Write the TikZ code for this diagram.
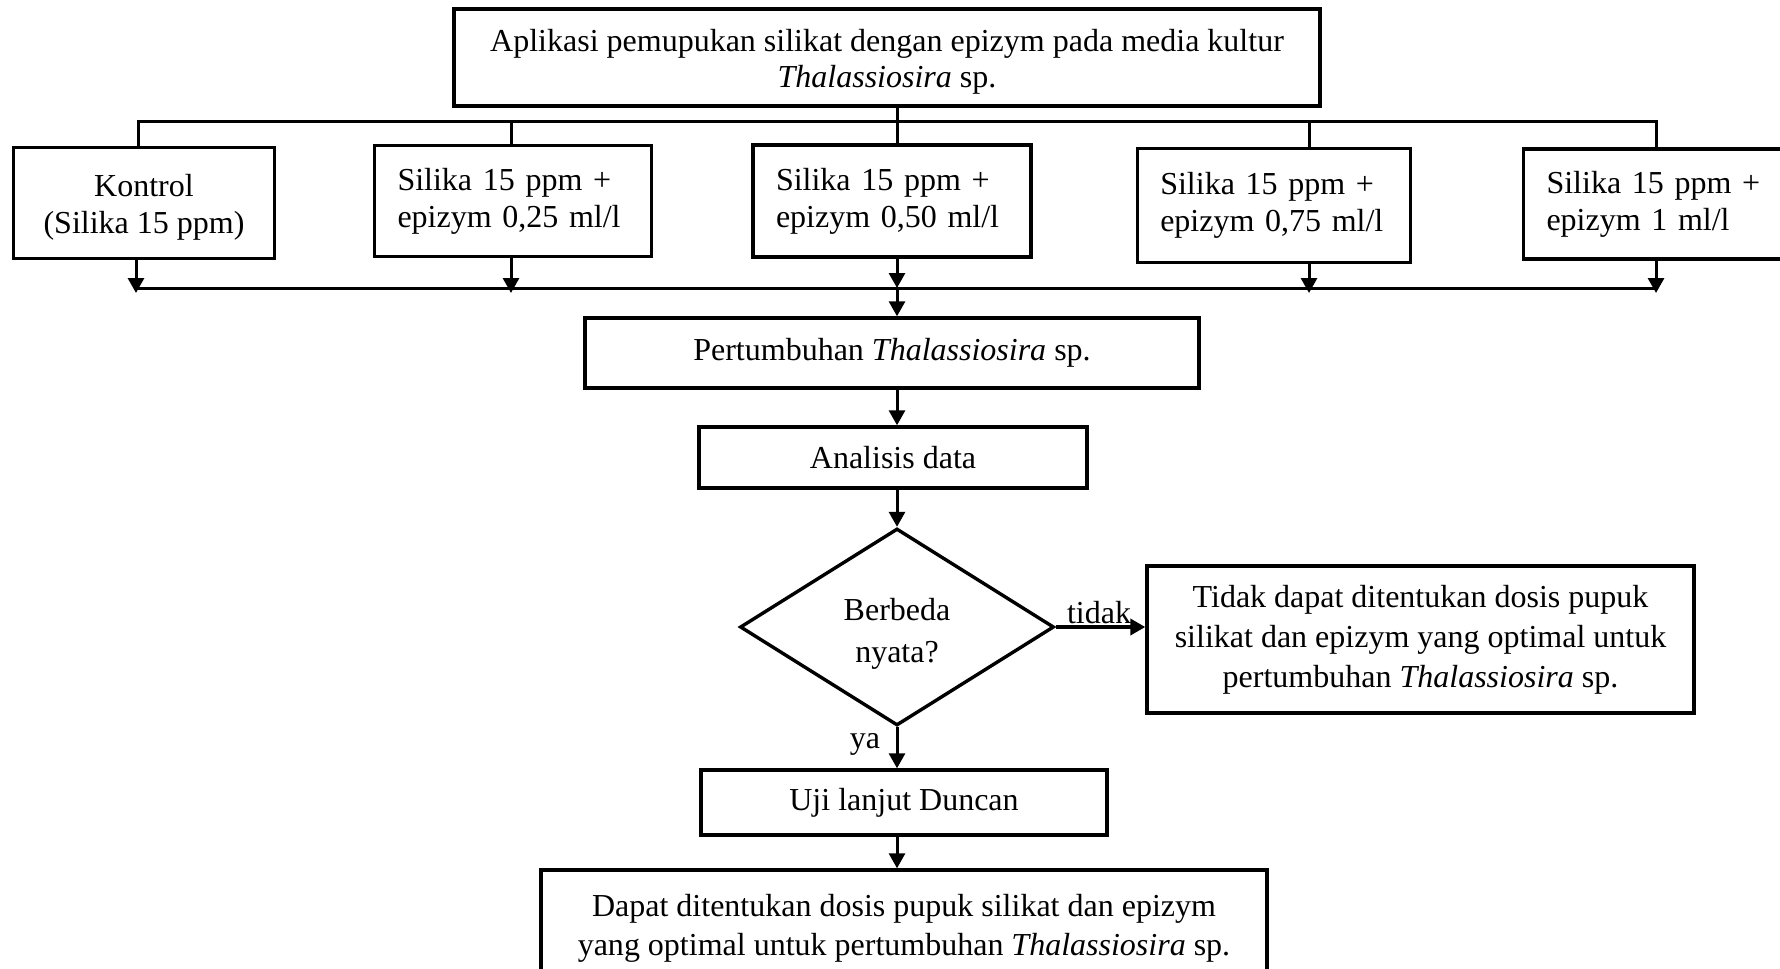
\documentclass[tikz,border=0pt]{standalone}
\usepackage{fontspec}
\setmainfont{Liberation Serif}
\usetikzlibrary{shapes.geometric,arrows.meta}
\begin{document}
\begin{tikzpicture}[x=0.5pt,y=-0.5pt,
  every node/.style={font=\fontsize{16}{18.5}\selectfont},
  box/.style={draw, line width=1.7pt, inner sep=0pt, align=center},
  lbox/.style={draw, line width=1.7pt, inner xsep=11.5pt, inner ysep=0pt, align=left},
  txt/.style={inner sep=0pt, align=center},
  conn/.style={line width=1.5pt},
  arr/.style={line width=1.5pt,-{Triangle[length=7.5pt,width=8pt]}},
  lbl/.style={inner sep=0pt}
]
\useasboundingbox (0,0) rectangle (1780,968);

\node[box, minimum width=433pt, minimum height=48.5pt] (top) at (887,57.5) {};
\node[txt, font=\fontsize{16}{18}\selectfont] (toptxt) at (887,62)
  {Aplikasi pemupukan silikat dengan epizym pada media kultur\\\textit{Thalassiosira} sp.};

\node[box, minimum width=130.5pt, minimum height=55.5pt] (b1) at (144,203) {};
\node[txt] (b1txt) at (144,207) {Kontrol\\(Silika 15 ppm)};
\node[lbox, text width=115.5pt, minimum height=55.5pt] (b2) at (513,201) {Silika 15 ppm +\\epizym 0,25 ml/l};
\node[lbox, text width=116pt, minimum height=56pt] (b3) at (892,201) {Silika 15 ppm +\\epizym 0,50 ml/l};
\node[lbox, text width=113.75pt, minimum height=56.75pt] (b4) at (1274,205.5) {Silika 15 ppm +\\epizym 0,75 ml/l};
\node[lbox, text width=117pt, minimum height=55pt] (b5) at (1663.5,204) {Silika 15 ppm +\\epizym 1 ml/l};

\node[box, minimum width=307pt, minimum height=35pt] (pert) at (892,353) {Pertumbuhan \textit{Thalassiosira} sp.};
\node[box, minimum width=194pt, minimum height=30.5pt] (anal) at (893,457.5) {Analisis data};
\node[diamond, draw, line width=1.7pt, minimum width=157pt, minimum height=98.5pt, inner sep=0pt] (dec) at (897,627) {};
\node[txt, font=\fontsize{16}{21}\selectfont] (dectxt) at (897,634) {Berbeda\\nyata?};
\node[box, minimum width=273.5pt, minimum height=73.5pt, font=\fontsize{16}{20}\selectfont] (tdk) at (1420.5,639.5)
  {Tidak dapat ditentukan dosis pupuk\\silikat dan epizym yang optimal untuk\\pertumbuhan \textit{Thalassiosira} sp.};
\node[box, minimum width=203pt, minimum height=32.5pt] (uji) at (904,802.5) {Uji lanjut Duncan};
\node[box, minimum width=363pt, minimum height=54.5pt] (fin) at (904,924.5) {};
\node[txt, font=\fontsize{16}{19.5}\selectfont] (fintxt) at (904,928)
  {Dapat ditentukan dosis pupuk silikat dan epizym\\yang optimal untuk pertumbuhan \textit{Thalassiosira} sp.};

\node[lbl] (lt) at (1099,613) {tidak};
\node[lbl] (ly) at (865,744) {ya};

% coordinates for connector columns
\coordinate (sx) at (897,0);
\coordinate (x1) at (138,0);
\coordinate (xb1) at (136,0);
\coordinate (x2) at (511,0);
\coordinate (x4) at (1309,0);
\coordinate (x5) at (1656,0);
\coordinate (tb) at (0,122);
\coordinate (bb) at (0,288);
\coordinate (bt) at (0,293);

\draw[conn] (top.south -| sx) -- (b3.north -| sx);
\draw[conn] (b1.north -| x1) -- (tb -| x1) -- (tb -| x5) -- (b5.north -| x5);
\draw[conn] (tb -| x2) -- (b2.north -| x2);
\draw[conn] (tb -| x4) -- (b4.north -| x4);

\draw[conn] (bb -| xb1) -- (bb -| x5);
\draw[arr] (b1.south -| xb1) -- (bt -| xb1);
\draw[arr] (b2.south -| x2) -- (bt -| x2);
\draw[arr] (b3.south -| sx) -- (bb -| sx);
\draw[arr] (b4.south -| x4) -- (bt -| x4);
\draw[arr] (b5.south -| x5) -- (bt -| x5);

\draw[arr] (bb -| sx) -- (pert.north -| sx);
\draw[arr] (pert.south -| sx) -- (anal.north -| sx);
\draw[arr] (anal.south -| sx) -- (dec.north);
\draw[arr, line width=2pt] (dec.east) -- (tdk.west |- dec.east);
\draw[arr] (dec.south) -- (uji.north -| dec.south);
\draw[arr] (uji.south -| sx) -- (fin.north -| sx);
\end{tikzpicture}
\end{document}
